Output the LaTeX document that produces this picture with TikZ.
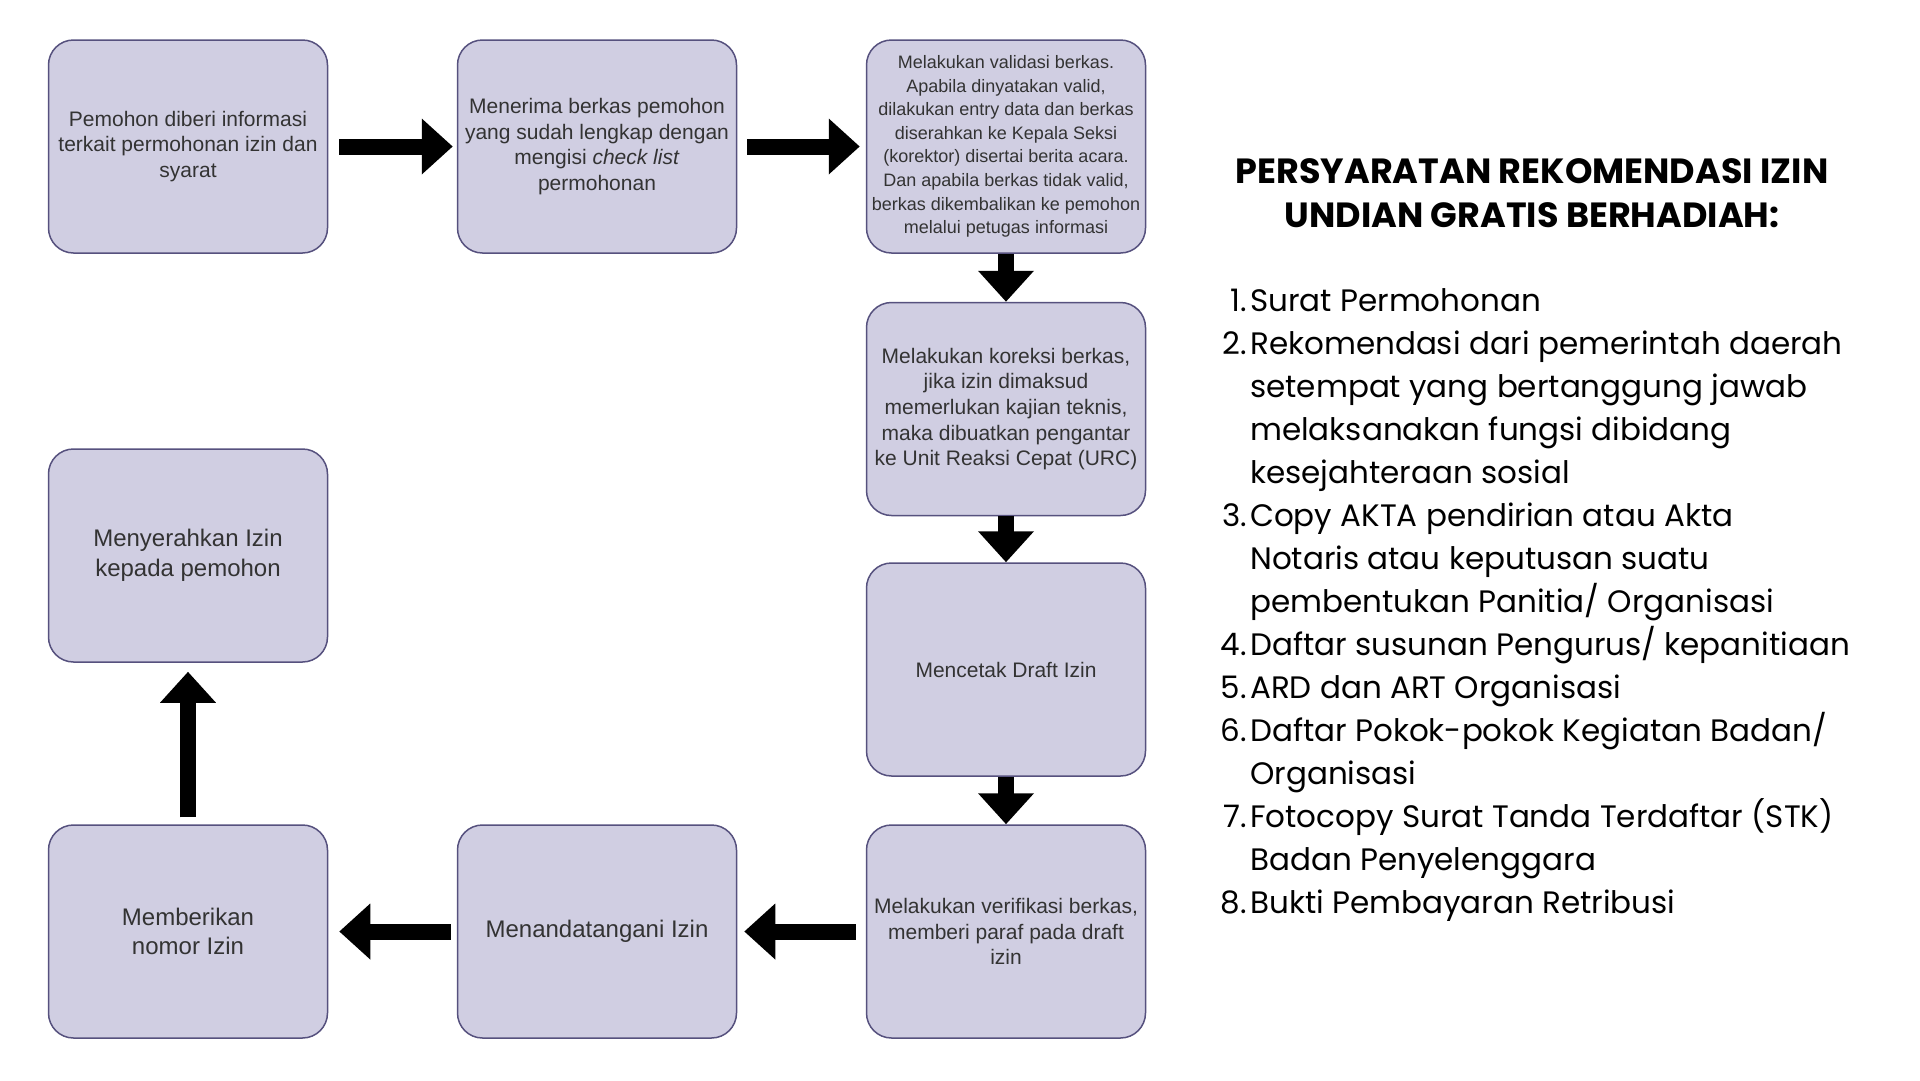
\documentclass[tikz,border=0pt]{standalone}
\usepackage{fontspec}
\setmainfont{Liberation Sans}
\newfontfamily\headfont{Poppins}
\newfontfamily\listfont{Poppins}
\usetikzlibrary{arrows.meta,calc}
\definecolor{boxfill}{HTML}{D0CEE2}
\definecolor{boxline}{HTML}{56517E}
\definecolor{boxtext}{HTML}{333333}
\begin{document}
\begin{tikzpicture}[x=1pt,y=-1pt,
  stepbox/.style={draw=boxline, fill=boxfill, line width=1.5pt, rounded corners=25pt,
    minimum width=279pt, minimum height=213pt, inner sep=0pt, align=center,
    text=boxtext, font=\fontsize{21}{25.6}\selectfont},
  smallbox/.style={stepbox, font=\fontsize{18}{23.6}\selectfont},
  widebox/.style={stepbox, font=\fontsize{24}{29.5}\selectfont},
  bigarrow/.style={line width=16pt, -{Triangle[width=54pt,length=31pt]}},
  listline/.style={inner sep=0pt, font=\listfont\fontsize{31}{36}\selectfont},
  ]
\useasboundingbox (0,0) rectangle (1920,1080);
\fill[white] (0,0) rectangle (1920,1080);

\node[stepbox] (b1) at (188,146.5) {Pemohon diberi informasi\\terkait permohonan izin dan\\syarat};
\node[stepbox] (b2) at (597,146.5) {Menerima berkas pemohon\\yang sudah lengkap dengan\\mengisi \textit{check list}\\permohonan};
\node[smallbox] (b3) at (1006,146.5) {Melakukan validasi berkas.\\Apabila dinyatakan valid,\\dilakukan entry data dan berkas\\diserahkan ke Kepala Seksi\\(korektor) disertai berita acara.\\Dan apabila berkas tidak valid,\\berkas dikembalikan ke pemohon\\melalui petugas informasi};
\node[stepbox] (b4) at (1006,409) {Melakukan koreksi berkas,\\jika izin dimaksud\\memerlukan kajian teknis,\\maka dibuatkan pengantar\\ke Unit Reaksi Cepat (URC)};
\node[stepbox] (b5) at (1006,669.5) {Mencetak Draft Izin};
\node[stepbox] (b6) at (1006,931.5) {Melakukan verifikasi berkas,\\memberi paraf pada draft\\izin};
\node[widebox] (b7) at (597,931.5) {Menandatangani Izin};
\node[widebox] (b8) at (188,931.5) {Memberikan\\nomor Izin};
\node[widebox] (b9) at (188,555.5) {Menyerahkan Izin\\kepada pemohon};

\draw[bigarrow] ([xshift=11pt]b1.east) -- ([xshift=-4pt]b2.west);
\draw[bigarrow] ([xshift=10pt]b2.east) -- ([xshift=-6pt]b3.west);
\draw[bigarrow] (b3.south) -- (b4.north);
\draw[bigarrow] (b4.south) -- (b5.north);
\draw[bigarrow] (b5.south) -- (b6.north);
\draw[bigarrow] ([xshift=-10pt]b6.west) -- ([xshift=7pt]b7.east);
\draw[bigarrow] ([xshift=-6pt]b7.west) -- ([xshift=11pt]b8.east);
\draw[bigarrow] ([yshift=7pt]b8.north) -- ([yshift=-9pt]b9.south);

\node[font=\headfont\bfseries\fontsize{35}{44}\selectfont, align=center, inner sep=0pt] (title) at (1532,193)
  {PERSYARATAN REKOMENDASI IZIN\\UNDIAN GRATIS BERHADIAH:};

\foreach \i/\t in {0/{Surat Permohonan},
  1/{Rekomendasi dari pemerintah daerah},
  2/{setempat yang bertanggung jawab},
  3/{melaksanakan fungsi dibidang},
  4/{kesejahteraan sosial},
  5/{Copy AKTA pendirian atau Akta},
  6/{Notaris atau keputusan suatu},
  7/{pembentukan Panitia/ Organisasi},
  8/{Daftar susunan Pengurus/ kepanitiaan},
  9/{ARD dan ART Organisasi},
  10/{Daftar Pokok-pokok Kegiatan Badan/},
  11/{Organisasi},
  12/{Fotocopy Surat Tanda Terdaftar (STK)},
  13/{Badan Penyelenggara},
  14/{Bukti Pembayaran Retribusi}}
  \node[listline, anchor=base west] (l\i) at (1250,{311+43*\i}) {\t};

\foreach \n/\i in {1/0,2/1,3/5,4/8,5/9,6/10,7/12,8/14}
  \node[listline, anchor=base east] (n\n) at (1247,{311+43*\i}) {\n.};
\end{tikzpicture}
\end{document}
